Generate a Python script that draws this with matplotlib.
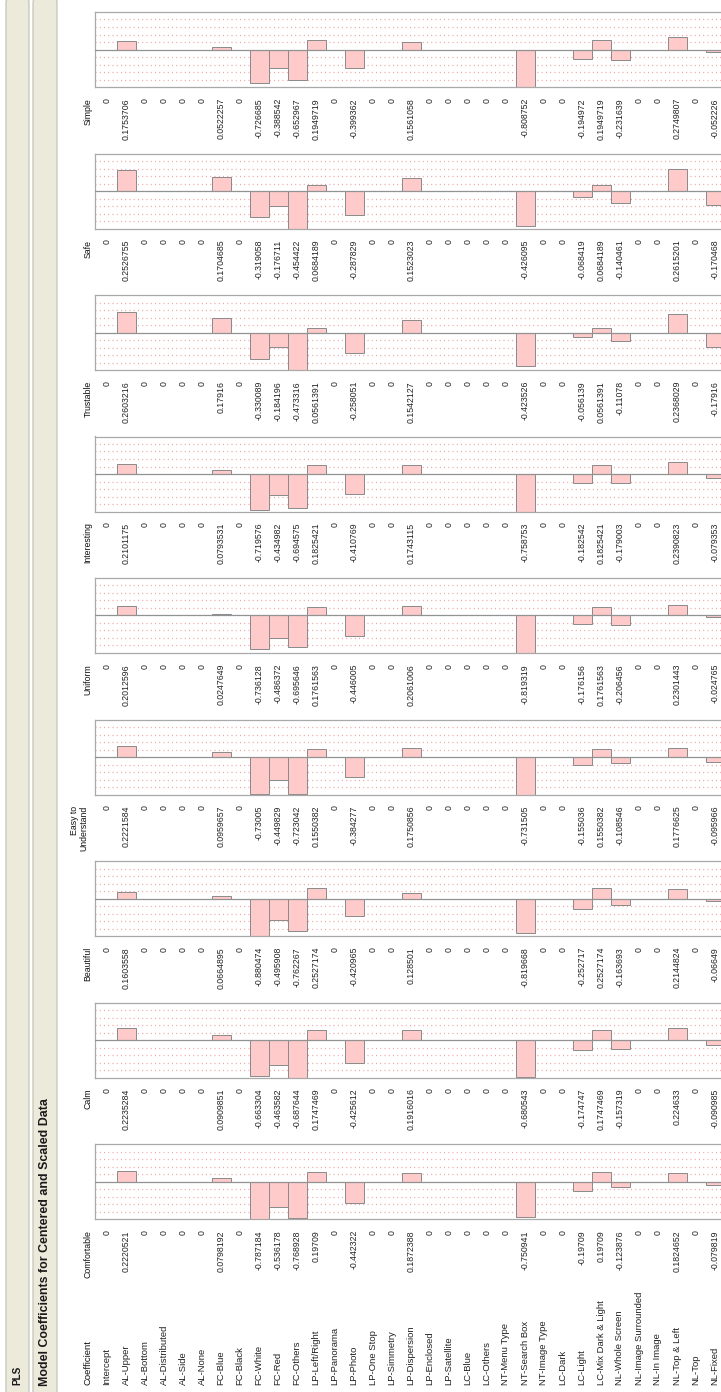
import matplotlib
matplotlib.use("Agg")
import matplotlib.pyplot as plt
from matplotlib.patches import FancyBboxPatch
from matplotlib import font_manager

# ---------------- data ----------------
coefficients = ["Intercept", "AL-Upper", "AL-Bottom", "AL-Distributed", "AL-Side", "AL-None",
                "FC-Blue", "FC-Black", "FC-White", "FC-Red", "FC-Others", "LP-Left/Right",
                "LP-Panorama", "LP-Photo", "LP-One Stop", "LP-Simmetry", "LP-Dispersion",
                "LP-Enclosed", "LP-Satellite", "LC-Blue", "LC-Others", "NT-Menu Type",
                "NT-Search Box", "NT-Image Type", "LC-Dark", "LC-Light", "LC-Mix Dark & Light",
                "NL-Whole Screen", "NL-Image Surrounded", "NL-In Image", "NL-Top & Left",
                "NL-Top", "NL-Fixed"]

responses = ["Simple", "Safe", "Trustable", "Interesting", "Uniform",
             "Easy to\nUnderstand", "Beautiful", "Calm", "Comfortable"]

simple = [0, 0.1753706, 0, 0, 0, 0, 0.0522257, 0, -0.726685, -0.388542, -0.652967, 0.1949719,
          0, -0.399362, 0, 0, 0.1561058, 0, 0, 0, 0, 0, -0.808752, 0, 0, -0.194972, 0.1949719,
          -0.231639, 0, 0, 0.2749807, 0, -0.052226]
safe = [0, 0.2526755, 0, 0, 0, 0, 0.1704685, 0, -0.319058, -0.176711, -0.454422, 0.0684189,
        0, -0.287829, 0, 0, 0.1523023, 0, 0, 0, 0, 0, -0.426095, 0, 0, -0.068419, 0.0684189,
        -0.140461, 0, 0, 0.2615201, 0, -0.170468]
trustable = [0, 0.2603216, 0, 0, 0, 0, 0.17916, 0, -0.330089, -0.184196, -0.473316, 0.0561391,
             0, -0.258051, 0, 0, 0.1542127, 0, 0, 0, 0, 0, -0.423526, 0, 0, -0.056139, 0.0561391,
             -0.11078, 0, 0, 0.2368029, 0, -0.17916]
interesting = [0, 0.2101175, 0, 0, 0, 0, 0.0793531, 0, -0.719576, -0.434982, -0.694575, 0.1825421,
               0, -0.410769, 0, 0, 0.1743115, 0, 0, 0, 0, 0, -0.758753, 0, 0, -0.182542, 0.1825421,
               -0.179003, 0, 0, 0.2390823, 0, -0.079353]
uniform = [0, 0.2012596, 0, 0, 0, 0, 0.0247649, 0, -0.736128, -0.486372, -0.695646, 0.1761563,
           0, -0.446005, 0, 0, 0.2061006, 0, 0, 0, 0, 0, -0.819319, 0, 0, -0.176156, 0.1761563,
           -0.206456, 0, 0, 0.2301443, 0, -0.024765]
easy = [0, 0.2221584, 0, 0, 0, 0, 0.0959657, 0, -0.73005, -0.449829, -0.723042, 0.1550382,
        0, -0.384277, 0, 0, 0.1750856, 0, 0, 0, 0, 0, -0.731505, 0, 0, -0.155036, 0.1550382,
        -0.108546, 0, 0, 0.1776625, 0, -0.095966]
beautiful = [0, 0.1603558, 0, 0, 0, 0, 0.0664895, 0, -0.880474, -0.495908, -0.762267, 0.2527174,
             0, -0.420965, 0, 0, 0.128501, 0, 0, 0, 0, 0, -0.819668, 0, 0, -0.252717, 0.2527174,
             -0.163693, 0, 0, 0.2144824, 0, -0.06649]
calm = [0, 0.2235284, 0, 0, 0, 0, 0.0909851, 0, -0.663304, -0.463582, -0.687644, 0.1747469,
        0, -0.425612, 0, 0, 0.1916016, 0, 0, 0, 0, 0, -0.680543, 0, 0, -0.174747, 0.1747469,
        -0.157319, 0, 0, 0.224633, 0, -0.090985]
comfortable = [0, 0.2220521, 0, 0, 0, 0, 0.0798192, 0, -0.787184, -0.536178, -0.768928, 0.19709,
               0, -0.442322, 0, 0, 0.1872388, 0, 0, 0, 0, 0, -0.750941, 0, 0, -0.19709, 0.19709,
               -0.123876, 0, 0, 0.1824652, 0, -0.079819]

series = [simple, safe, trustable, interesting, uniform, easy, beautiful, calm, comfortable]

# ---------------- fonts ----------------
def pick_font(names):
    for n in names:
        try:
            font_manager.findfont(n, fallback_to_default=False)
            return n
        except Exception:
            pass
    return "DejaVu Sans"

FONT = pick_font(["Liberation Sans Narrow", "Liberation Sans", "Arial"])
BFONT = pick_font(["Liberation Sans", "Arial"])

def fmt(v):
    if v == 0:
        return "0"
    s = f"{v:.7f}" if v > 0 else f"{v:.6f}"
    s = s.rstrip("0").rstrip(".")
    return s

# ---------------- layout (pixels) ----------------
W, H = 721, 1392
ROW_X0, ROW_DX = 107, 19
BOX_LEFT, BOX_RIGHT = 95, 745
VAL_TOP0, PERIOD = 98, 141.5
BOX_H, GAP = 75, 11

fig = plt.figure(figsize=(W / 100, H / 100), dpi=100)
fig.patch.set_facecolor("white")

# outline strips
for x0, x1 in [(6, 29), (33, 57)]:
    p = FancyBboxPatch((x0 / W, -0.02), (x1 - x0) / W, (H + 40 - 10) / H,
                       boxstyle="round,pad=0,rounding_size=0.004",
                       transform=fig.transFigure, facecolor="#ECEADB",
                       edgecolor="#C4C4BC", linewidth=0.9)
    fig.add_artist(p)
fig.text(17.5 / W, 1 - 1385 / H, "PLS", rotation=90, ha="center", va="bottom",
         fontsize=7.2, fontweight="bold", family=BFONT, color="#1a1a1a")
fig.text(45 / W, 1 - 1386 / H, "Model Coefficients for Centered and Scaled Data",
         rotation=90, ha="center", va="bottom", fontsize=8.9, fontweight="bold",
         family=BFONT, color="#1a1a1a")

xmin = (BOX_LEFT - ROW_X0) / ROW_DX
xmax = (BOX_RIGHT - ROW_X0) / ROW_DX
idx = list(range(len(coefficients)))

axes = []
for k, (name, vals) in enumerate(zip(responses, series)):
    vtop = VAL_TOP0 + PERIOD * k
    btop = vtop - GAP - BOX_H
    ax = fig.add_axes([BOX_LEFT / W, 1 - (btop + BOX_H) / H,
                       (BOX_RIGHT - BOX_LEFT) / W, BOX_H / H])
    m = max(abs(v) for v in vals)
    ax.set_xlim(xmin, xmax)
    ax.set_ylim(-m, m)
    for f in (0.2, 0.4, 0.6, 0.8):
        for s in (1, -1):
            ax.axhline(s * f * m, color="#F0A0A0", linestyle=(0, (0.8, 2.6)),
                       linewidth=0.9, zorder=0)
    ax.bar(idx, vals, width=1.0, color="#FFCACA", edgecolor="#8A8A8A",
           linewidth=0.7, zorder=2)
    ax.axhline(0, color="#929292", linewidth=0.9, zorder=3)
    ax.set_xticks([])
    ax.set_yticks([])
    for sp in ax.spines.values():
        sp.set_color("#A9A9A9")
        sp.set_linewidth(0.9)
    tr = ax.get_xaxis_transform()
    yv = -GAP / BOX_H
    for i, v in zip(idx, vals):
        ax.text(i, yv, fmt(v), transform=tr, rotation=90, ha="center", va="top",
                fontsize=6.3, family=FONT, color="#222222", clip_on=False)
    hx = -1.0 if "\n" not in name else -1.45
    ax.text(hx, yv, name, transform=tr, rotation=90, ha="center", va="top",
            multialignment="right", fontsize=6.3, family=FONT, color="#111111",
            clip_on=False, linespacing=1.0)
    axes.append((ax, btop))

# row labels at the bottom
ax, btop = axes[-1]
tr = ax.get_xaxis_transform()
ylab = -(1385 - (btop + BOX_H)) / BOX_H
ax.text(-1.0, ylab, "Coefficient", transform=tr, rotation=90, ha="center", va="bottom",
        fontsize=6.8, family=FONT, color="#111111", clip_on=False)
for i, lab in zip(idx, coefficients):
    ax.text(i, ylab, lab, transform=tr, rotation=90, ha="center", va="bottom",
            fontsize=6.8, family=FONT, color="#222222", clip_on=False)

fig.savefig("out.png", dpi=100, facecolor="white")
